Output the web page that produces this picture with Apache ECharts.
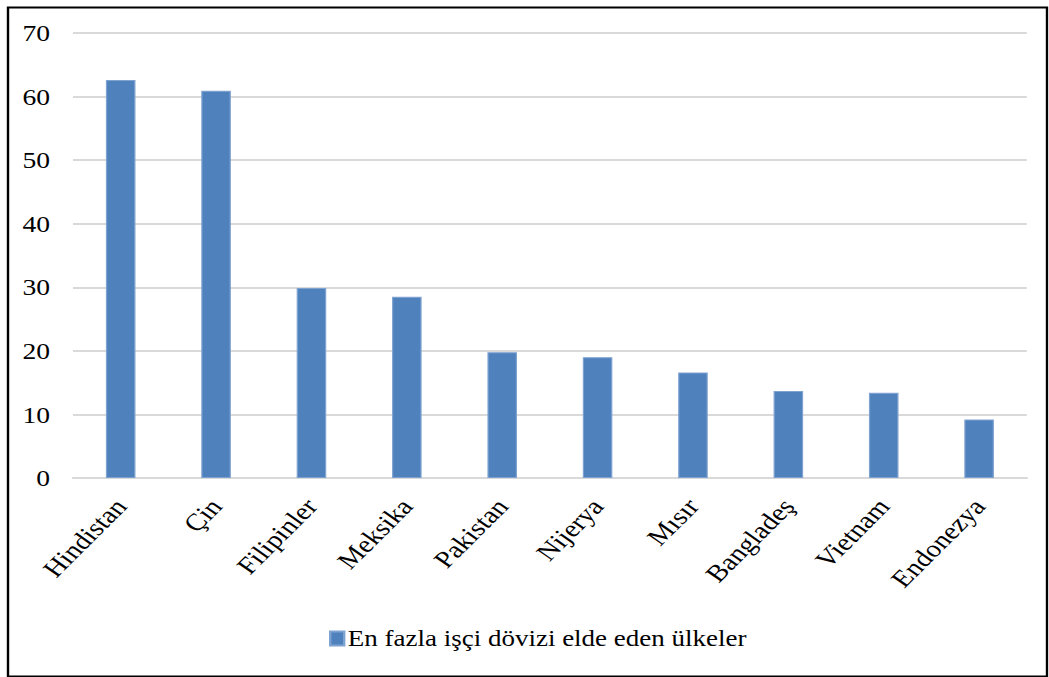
<!DOCTYPE html>
<html>
<head>
<meta charset="utf-8">
<script src="https://cdn.jsdelivr.net/npm/echarts@6/dist/echarts.min.js"></script>
<style>
html,body{margin:0;padding:0;background:#fff;overflow:hidden;}
#wrap{width:1049px;height:677px;overflow:hidden;}
#main{width:874px;height:677px;transform:scaleX(1.2);transform-origin:0 0;}
</style>
</head>
<body>
<div id="wrap"><div id="main"></div></div>
<script>
var categories = ['Hindistan', 'Çin', 'Filipinler', 'Meksika', 'Pakistan', 'Nijerya', 'Mısır', 'Bangladeş', 'Vietnam', 'Endonezya'];
var values = [62.6, 60.9, 29.9, 28.5, 19.8, 19.0, 16.6, 13.7, 13.4, 9.2];
var seriesName = 'En fazla işçi dövizi elde eden ülkeler';
var yTicks = [0, 10, 20, 30, 40, 50, 60, 70];

var S = 1.2; // horizontal stretch of the reference picture
var chart = echarts.init(document.getElementById('main'), null, {renderer: 'svg'});
var font = '"Liberation Serif", "Times New Roman", serif';
chart.setOption({
  animation: false,
  textStyle: {fontFamily: font},
  graphic: [{
    type: 'rect', left: 5 / S, top: 5, z: 100,
    shape: {width: 1039 / S, height: 669},
    style: {fill: 'none', stroke: '#000', lineWidth: 2}
  }],
  grid: {left: 73 / S, right: 22 / S, top: 33, bottom: 199, containLabel: false},
  legend: {
    data: [seriesName],
    left: 323 / S, top: 622,
    itemWidth: 14 / S, itemHeight: 14, itemGap: 2,
    icon: 'rect',
    textStyle: {fontFamily: font, fontSize: 22.5, color: '#000', padding: [0, 0, 0, -2]}
  },
  xAxis: {
    type: 'category',
    data: categories,
    axisLine: {show: true, lineStyle: {color: '#d9d9d9', width: 2}},
    axisTick: {show: false},
    axisLabel: {rotate: 50, fontSize: 24, color: '#000', fontFamily: font, margin: 24, interval: 0}
  },
  yAxis: {
    type: 'value',
    min: yTicks[0], max: yTicks[yTicks.length - 1], interval: 10,
    axisLine: {show: false},
    axisTick: {show: false},
    axisLabel: {fontSize: 23, color: '#000', fontFamily: font, margin: 23 / S},
    splitLine: {lineStyle: {color: '#d9d9d9', width: 2}}
  },
  series: [{
    name: seriesName,
    type: 'bar',
    data: values,
    barWidth: '31%',
    itemStyle: {color: '#4f81bd', borderColor: '#7fa3d1', borderWidth: 1}
  }]
});
</script>
</body>
</html>
